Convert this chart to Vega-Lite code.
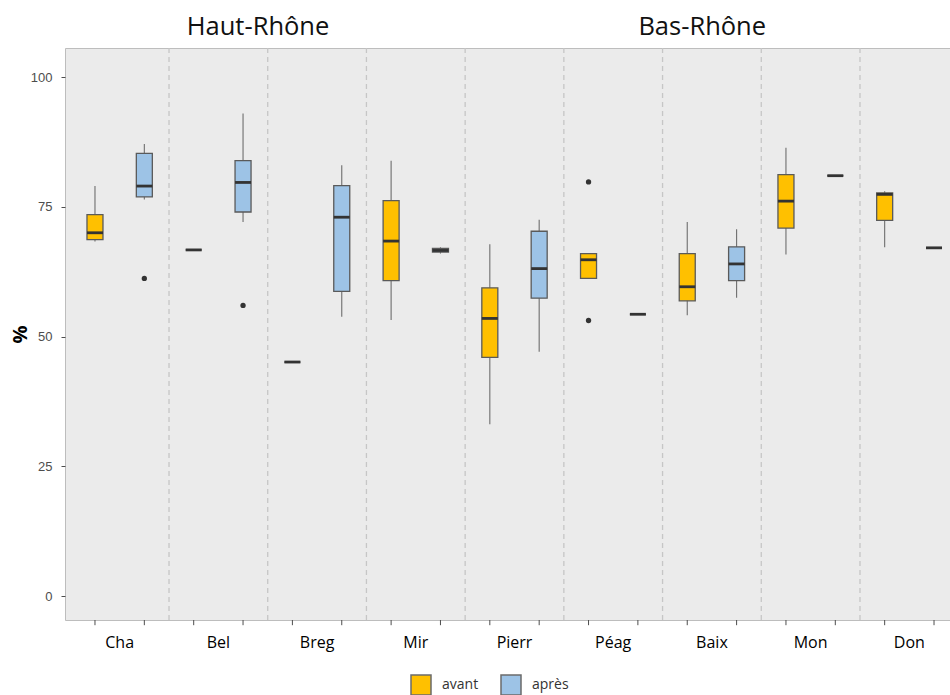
{
  "$schema": "https://vega.github.io/schema/vega-lite/v6.json",
  "width": 885,
  "height": 572,
  "autosize": {"type": "none"},
  "padding": {"left": 65, "top": 48, "right": 0, "bottom": 75},
  "background": "white",
  "config": {
    "font": "Open Sans",
    "view": {"fill": "#ebebeb", "stroke": "#bdbdbd", "strokeWidth": 1},
    "axisX": {"domain": false, "ticks": false, "grid": false, "labelFont": "Open Sans", "labelFontSize": 16, "labelColor": "#000000", "labelPadding": 14, "labelAngle": 0},
    "axisY": {"domain": false, "grid": false, "labelFont": "Liberation Sans", "labelFontSize": 13, "labelColor": "#4d4d4d", "tickColor": "#4d4d4d", "tickSize": 4, "labelPadding": 9, "titleFont": "Open Sans", "titleFontSize": 20, "titleFontWeight": "bold", "titleColor": "#000000", "titlePadding": 0},
    "legend": {"orient": "none", "legendX": 345, "legendY": 626, "direction": "horizontal", "symbolType": "square", "symbolSize": 400, "symbolStrokeColor": "#6b6b6b", "symbolStrokeWidth": 1.5, "labelFont": "Open Sans", "labelFontSize": 14, "labelColor": "#333333", "labelOffset": 10, "columnPadding": 19, "padding": 0}
  },
  "datasets": {
    "boxes": [
      {"site": "Cha", "period": "avant", "lower": 68.3, "q1": 68.7, "median": 70.0, "q3": 73.5, "upper": 79.0},
      {"site": "Cha", "period": "après", "lower": 76.4, "q1": 76.9, "median": 79.0, "q3": 85.3, "upper": 87.1},
      {"site": "Bel", "period": "avant", "lower": 66.7, "q1": 66.7, "median": 66.7, "q3": 66.7, "upper": 66.7},
      {"site": "Bel", "period": "après", "lower": 72.1, "q1": 74.0, "median": 79.7, "q3": 83.9, "upper": 93.0},
      {"site": "Breg", "period": "avant", "lower": 45.1, "q1": 45.1, "median": 45.1, "q3": 45.1, "upper": 45.1},
      {"site": "Breg", "period": "après", "lower": 53.8, "q1": 58.7, "median": 73.0, "q3": 79.1, "upper": 83.0},
      {"site": "Mir", "period": "avant", "lower": 53.2, "q1": 60.8, "median": 68.4, "q3": 76.2, "upper": 83.9},
      {"site": "Mir", "period": "après", "lower": 66.0, "q1": 66.3, "median": 66.6, "q3": 67.0, "upper": 67.2},
      {"site": "Pierr", "period": "avant", "lower": 33.1, "q1": 46.0, "median": 53.5, "q3": 59.4, "upper": 67.8},
      {"site": "Pierr", "period": "après", "lower": 47.1, "q1": 57.4, "median": 63.1, "q3": 70.3, "upper": 72.5},
      {"site": "Péag", "period": "avant", "lower": 61.2, "q1": 61.2, "median": 64.8, "q3": 66.0, "upper": 66.0},
      {"site": "Péag", "period": "après", "lower": 54.3, "q1": 54.3, "median": 54.3, "q3": 54.3, "upper": 54.3},
      {"site": "Baix", "period": "avant", "lower": 54.1, "q1": 56.9, "median": 59.6, "q3": 66.0, "upper": 72.1},
      {"site": "Baix", "period": "après", "lower": 57.5, "q1": 60.8, "median": 64.0, "q3": 67.3, "upper": 70.7},
      {"site": "Mon", "period": "avant", "lower": 65.8, "q1": 70.9, "median": 76.1, "q3": 81.2, "upper": 86.4},
      {"site": "Mon", "period": "après", "lower": 81.0, "q1": 81.0, "median": 81.0, "q3": 81.0, "upper": 81.0},
      {"site": "Don", "period": "avant", "lower": 67.2, "q1": 72.4, "median": 77.4, "q3": 77.7, "upper": 78.0},
      {"site": "Don", "period": "après", "lower": 67.1, "q1": 67.1, "median": 67.1, "q3": 67.1, "upper": 67.1}
    ],
    "outliers": [
      {"site": "Cha", "period": "après", "value": 61.2},
      {"site": "Bel", "period": "après", "value": 56.0},
      {"site": "Péag", "period": "avant", "value": 79.8},
      {"site": "Péag", "period": "avant", "value": 53.1}
    ],
    "regions": [
      {"region": "Haut-Rhône", "site": "Bel", "period": "après"},
      {"region": "Bas-Rhône", "site": "Baix", "period": "avant"}
    ]
  },
  "encoding": {
    "x": {
      "field": "site", "type": "nominal", "title": null,
      "sort": ["Cha", "Bel", "Breg", "Mir", "Pierr", "Péag", "Baix", "Mon", "Don"],
      "scale": {"type": "band", "domain": ["Cha", "Bel", "Breg", "Mir", "Pierr", "Péag", "Baix", "Mon", "Don"], "range": [5.3, 893.7], "paddingInner": 0, "paddingOuter": 0}
    }
  },
  "layer": [
    {
      "data": {"name": "boxes"},
      "transform": [{"filter": "datum.period === 'avant' && datum.site !== 'Cha'"}],
      "mark": {"type": "rule", "color": "#c6c6c6", "strokeWidth": 1.3, "strokeDash": [5, 4]},
      "encoding": {
        "x": {"field": "site", "type": "nominal", "title": null, "bandPosition": 0,
          "sort": ["Cha", "Bel", "Breg", "Mir", "Pierr", "Péag", "Baix", "Mon", "Don"],
          "scale": {"type": "band", "domain": ["Cha", "Bel", "Breg", "Mir", "Pierr", "Péag", "Baix", "Mon", "Don"], "range": [5.3, 893.7], "paddingInner": 0, "paddingOuter": 0}}
      }
    },
    {
      "data": {"name": "boxes"},
      "mark": {"type": "rule", "color": "#4d4d4d", "strokeWidth": 1},
      "encoding": {
        "xOffset": {"field": "period", "type": "nominal", "sort": ["avant", "après"], "scale": {"domain": ["avant", "après"], "paddingInner": 0, "paddingOuter": 0}},
        "y": {"datum": -4.6, "type": "quantitative", "title": "%", "axis": {"values": [0, 25, 50, 75, 100], "title": "%"}, "scale": {"domain": [-4.6, 105.6], "nice": false, "zero": false}},
        "y2": {"datum": -5.6}
      }
    },
    {
      "data": {"name": "boxes"},
      "mark": {"type": "rule", "color": "#6e6e6e", "strokeWidth": 1.1},
      "encoding": {
        "xOffset": {"field": "period", "type": "nominal", "sort": ["avant", "après"], "scale": {"domain": ["avant", "après"], "paddingInner": 0, "paddingOuter": 0}},
        "y": {"field": "lower", "type": "quantitative", "title": "%", "scale": {"domain": [-4.6, 105.6], "nice": false, "zero": false}, "axis": {"values": [0, 25, 50, 75, 100], "title": "%"}},
        "y2": {"field": "upper"}
      }
    },
    {
      "data": {"name": "boxes"},
      "mark": {"type": "bar", "width": 16, "stroke": "#5a5a5a", "strokeWidth": 1.3},
      "encoding": {
        "xOffset": {"field": "period", "type": "nominal", "sort": ["avant", "après"], "scale": {"domain": ["avant", "après"], "paddingInner": 0, "paddingOuter": 0}},
        "y": {"field": "q1", "type": "quantitative", "title": "%", "axis": {"values": [0, 25, 50, 75, 100], "title": "%"}, "scale": {"domain": [-4.6, 105.6], "nice": false, "zero": false}},
        "y2": {"field": "q3"},
        "color": {"field": "period", "type": "nominal", "sort": ["avant", "après"], "title": null, "scale": {"domain": ["avant", "après"], "range": ["#FFC000", "#9DC3E6"]}}
      }
    },
    {
      "data": {"name": "boxes"},
      "mark": {"type": "tick", "color": "#333333", "size": 16, "thickness": 2.8, "orient": "horizontal", "opacity": 1},
      "encoding": {
        "xOffset": {"field": "period", "type": "nominal", "sort": ["avant", "après"], "scale": {"domain": ["avant", "après"], "paddingInner": 0, "paddingOuter": 0}},
        "y": {"field": "median", "type": "quantitative", "title": "%", "axis": {"values": [0, 25, 50, 75, 100], "title": "%"}, "scale": {"domain": [-4.6, 105.6], "nice": false, "zero": false}}
      }
    },
    {
      "data": {"name": "outliers"},
      "mark": {"type": "point", "filled": true, "color": "#333333", "size": 28, "opacity": 1},
      "encoding": {
        "xOffset": {"field": "period", "type": "nominal", "sort": ["avant", "après"], "scale": {"domain": ["avant", "après"], "paddingInner": 0, "paddingOuter": 0}},
        "y": {"field": "value", "type": "quantitative", "title": "%", "axis": {"values": [0, 25, 50, 75, 100], "title": "%"}, "scale": {"domain": [-4.6, 105.6], "nice": false, "zero": false}}
      }
    },
    {
      "data": {"name": "regions"},
      "mark": {"type": "text", "font": "Open Sans", "fontSize": 25.5, "color": "#111111", "align": "center", "baseline": "alphabetic", "dx": 15},
      "encoding": {
        "xOffset": {"field": "period", "type": "nominal", "sort": ["avant", "après"], "scale": {"domain": ["avant", "après"], "paddingInner": 0, "paddingOuter": 0}},
        "y": {"datum": 108.1, "type": "quantitative", "title": "%", "axis": {"values": [0, 25, 50, 75, 100], "title": "%"}, "scale": {"domain": [-4.6, 105.6], "nice": false, "zero": false}},
        "text": {"field": "region", "type": "nominal"}
      }
    }
  ]
}
